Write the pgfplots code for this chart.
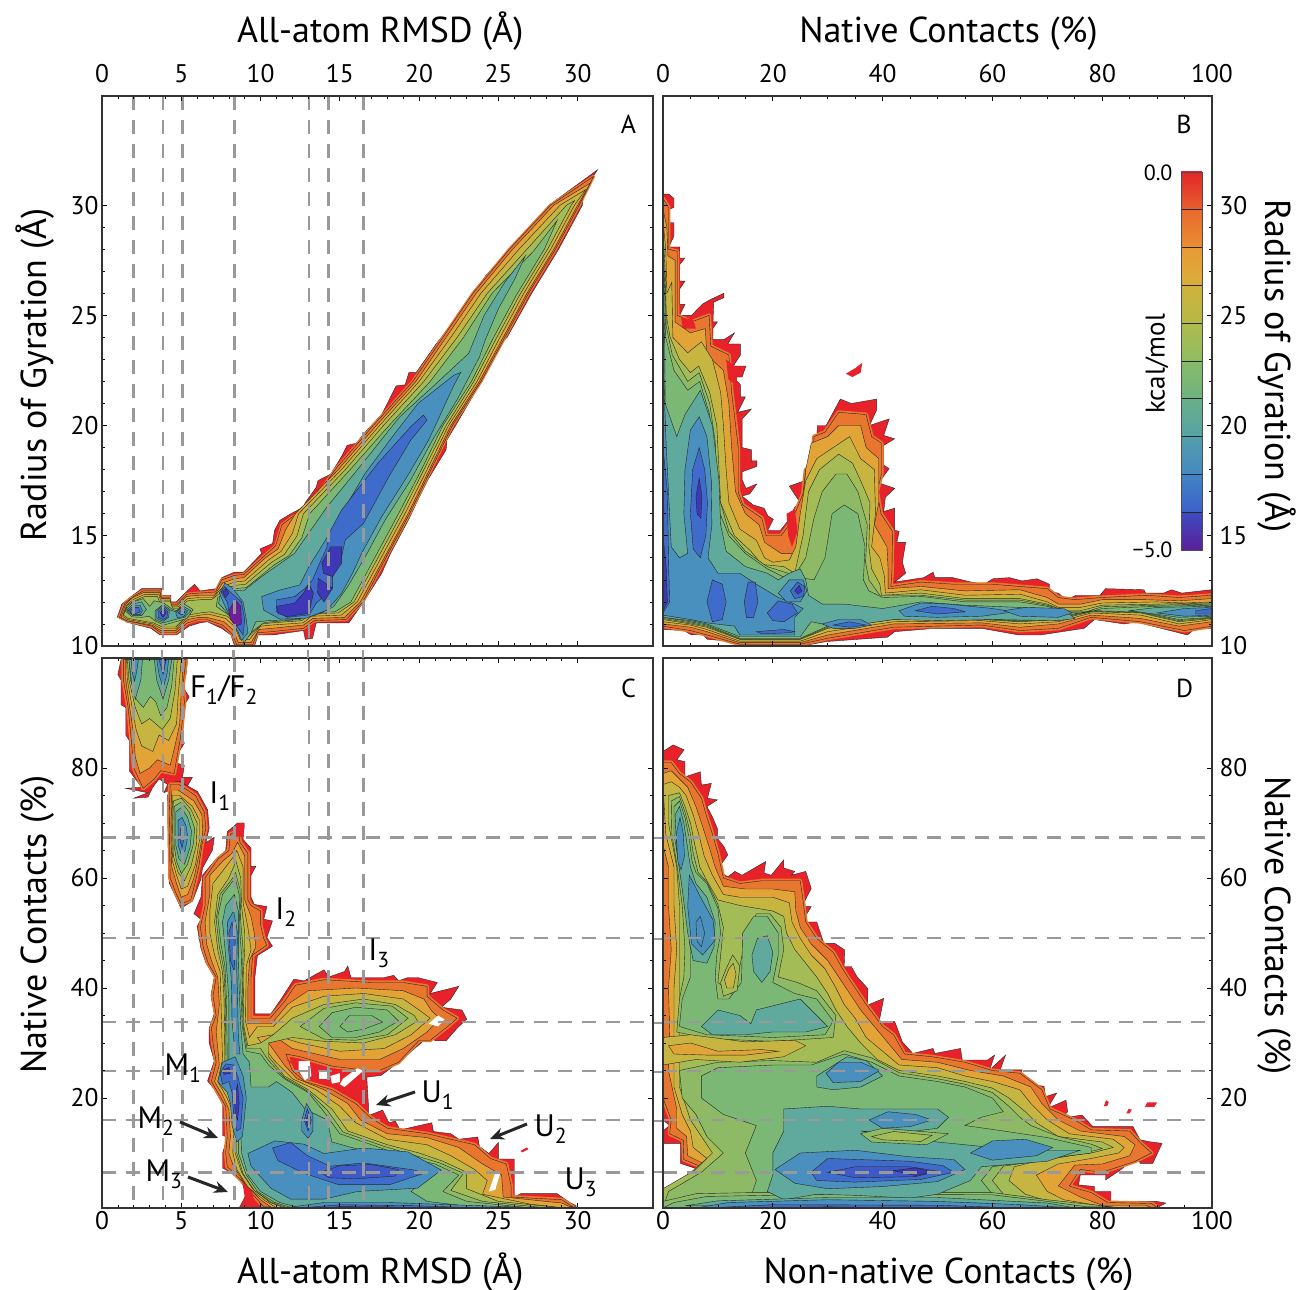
\documentclass[border=0pt]{standalone}
\usepackage{pgfplots}
\pgfplotsset{compat=1.18}
\usepackage{fontspec}
\setmainfont{PT Sans}
\usetikzlibrary{arrows.meta}

\definecolor{c0}{HTML}{E8222A}
\definecolor{c1}{HTML}{E9762F}
\definecolor{c2}{HTML}{E2A436}
\definecolor{c3}{HTML}{C6B541}
\definecolor{c4}{HTML}{A3BC55}
\definecolor{c45}{HTML}{8FBA65}
\definecolor{c5}{HTML}{7CB875}
\definecolor{c6}{HTML}{5FA99D}
\definecolor{c7}{HTML}{4A90BE}
\definecolor{c8}{HTML}{3F6CCB}
\definecolor{c85}{HTML}{3D5AC8}
\definecolor{c9}{HTML}{3E38B8}
\definecolor{cp}{HTML}{701E9C}

% one filled contour level
\newcommand{\lv}[2]{\addplot[fill=#1,draw=black!85,line width=0.4pt] coordinates {#2} --cycle;}
% outer orange level, thickened so that the red only shows at the spikes
\def\edgew{4pt}
\newcommand{\edge}[1]{\addplot[fill=c1,draw=c1,line width=\edgew,line join=round] coordinates {#1} --cycle;
  \lv{c1}{#1}}
\newcommand{\red}[1]{\addplot[fill=c0,draw=none] coordinates {#1} --cycle;}
\newcommand{\hole}[1]{\addplot[fill=white,draw=none] coordinates {#1} --cycle;}

\pgfplotsset{
  panel/.style={
    scale only axis, axis on top,
    tick align=inside, tick pos=both,
    major tick length=5pt, minor tick length=3pt,
    every tick/.style={black,line width=0.7pt},
    axis line style={line width=1.1pt,black!80},
    /pgf/number format/assume math mode=true,
    tick label style={font=\fontsize{25.5}{25.5}\selectfont},
    label style={font=\fontsize{36}{36}\selectfont,text height=0.75em,text depth=0.22em},
  },
  dashln/.style={color=black!40,line width=2.8pt,dash pattern=on 14pt off 10pt},
}

\begin{document}
\begin{tikzpicture}[x=1pt,y=1pt]
\path[use as bounding box] (0,0) rectangle (1310,1290);

% ---------- panel A ----------
\def\edgew{3pt}
\begin{axis}[panel,at={(102pt,644pt)},anchor=south west,width=551pt,height=550pt,
  xmin=0,xmax=34.75,ymin=10,ymax=34.95,
  xtick={0,5,...,30},ytick={10,15,...,30},minor x tick num=4,minor y tick num=4,
  xticklabel pos=top,yticklabel pos=left,xticklabel style={yshift=10pt},
  xlabel={All-atom RMSD (Å)},ylabel={Radius of Gyration (Å)},
  xlabel style={at={(0.505,1)},anchor=south,yshift=48pt},
  ylabel style={at={(0,0.493)},anchor=south,yshift=50pt}]
\lv{c0}{(0.96,11.3)(1.25,11.9)(1.94,12.3)(2.51,12.6)(3.77,12.6)(3.77,12.3)(4.35,12.3)(4.35,12)(4.69,12)(5.38,12.5)(5.84,12.8)(6.18,12.5)(7.21,12.6)(7.55,13.1)(8.36,13.35)(8.93,13.35)(9.27,13.6)(10.07,14.2)(9.96,14.4)(10.76,14.65)(10.88,15.25)(11.22,15.7)(11.91,16)(12.71,16.3)(12.82,16.5)(13.51,17.2)(13.62,17.5)(14.43,17.8)(15.11,18.6)(15.46,19.1)(16.03,19.2)(16.72,19.8)(17.64,20.5)(18.55,21.8)(19.12,21.85)(19.35,22.4)(19.81,22.4)(21.07,23.7)(22.5,25)(24.2,26.8)(26,28.2)(28.2,30)(31.25,31.6)(30.4,30.7)(30.3,30)(28.8,28)(27.1,26)(25.55,24)(25.4,23.9)(24.4,22.75)(23.36,21.3)(22.3,20)(21.76,19.35)(21.7,18.9)(20.6,17.6)(20.04,16.8)(19.35,15.75)(18.2,14.2)(17.64,13.3)(16.5,12)(15.57,11.05)(13.51,11.05)(13.28,10.35)(12.82,10.3)(12.71,10.7)(10.76,10.5)(9.85,10.5)(9.62,10)(8.36,10)(8.13,10.5)(7.55,10.8)(6.64,11.1)(6.18,11.05)(5.49,10.9)(4.69,10.5)(3.66,10.5)(3.09,10.8)(1.48,11.1)(1.48,11.35)}
\edge{(1.1,11.3)(1.45,11.95)(2,12.25)(2.6,12.5)(3.65,12.5)(3.75,12.2)(4.25,12.2)(4.3,11.9)(4.75,11.9)(5.35,12.35)(6.1,12.4)(7.15,12.45)(7.55,13)(8.35,13.2)(8.95,13.25)(10.1,14)(10.95,14.55)(11.35,15.5)(12,15.85)(12.9,16.15)(14.7,18)(17.1,20)(19.6,22)(21.5,24)(23.4,26)(25.7,28)(28.3,30)(31,31.3)(30.1,30)(28.6,28)(26.9,26)(25.4,24)(23.9,22)(22.1,20)(20.75,18)(19.4,16)(17.9,14)(16.45,12)(15.4,11.2)(13.4,11.15)(12.7,10.8)(10.7,10.65)(9.8,10.6)(9.5,10.05)(8.5,10.05)(8.2,10.55)(7.6,10.95)(6.6,11.2)(6.1,11.2)(5.4,11.05)(4.65,10.6)(3.7,10.6)(3.15,10.9)(1.55,11.15)}
\lv{c2}{(1.2,11.3)(1.5,11.9)(1.95,12.2)(2.6,12.42)(3.65,12.42)(3.72,12.15)(4.3,12.15)(4.35,11.85)(4.75,11.85)(5.35,12.25)(6.1,12.3)(7.1,12.3)(7.6,12.85)(8.35,13.05)(8.95,13.1)(10.3,14)(11.1,14.4)(11.6,15.3)(12.2,16)(14.9,18)(17.3,20)(19.8,22)(21.7,24)(23.6,26)(25.9,28)(28.5,30)(30.8,31)(30,30)(28.5,28)(26.8,26)(25.3,24)(23.8,22)(22,20)(20.65,18)(19.3,16)(17.8,14)(16.3,12)(15.3,11.3)(13.3,11.25)(12.7,10.95)(10.7,10.8)(9.9,10.75)(9.4,10.15)(8.6,10.15)(8.3,10.7)(7.7,11.1)(6.6,11.3)(6.1,11.3)(5.4,11.2)(4.65,10.7)(3.7,10.7)(3.15,10.95)(1.55,11.15)}
\lv{c3}{(1.3,11.35)(1.55,11.85)(2,12.12)(2.65,12.33)(3.6,12.33)(3.68,12.08)(4.3,12.08)(4.4,11.78)(4.8,11.78)(5.4,12.15)(6.15,12.2)(7,12.2)(7.65,12.7)(8.35,12.9)(9,12.95)(10.5,13.9)(11.3,14.3)(12,15.1)(12.4,16)(15.1,18)(17.5,20)(20,22)(22,24)(23.9,26)(26.3,28)(28.9,30)(30.5,30.7)(29.8,30)(28.3,28)(26.6,26)(25.1,24)(23.65,22)(21.85,20)(20.5,18)(19.1,16)(17.6,14)(16.1,12)(15.1,11.4)(13.2,11.35)(12.7,11.05)(10.7,10.95)(10,10.9)(9.3,10.3)(8.7,10.3)(8.4,10.85)(7.8,11.25)(6.7,11.45)(6.2,11.4)(5.4,11.3)(4.65,10.78)(3.75,10.78)(3.2,11)(1.6,11.2)}
\lv{c4}{(1.35,11.4)(1.6,11.85)(2.05,12.05)(2.7,12.25)(3.5,12.25)(3.62,12.02)(4.3,12.02)(4.45,11.72)(4.85,11.72)(5.4,12.05)(6.2,12.1)(6.9,12.1)(7.7,12.55)(8.35,12.75)(9.05,12.8)(10.7,13.8)(11.5,14.15)(12.3,15)(12.7,16)(15.35,18)(17.75,20)(20.3,22)(22.4,24)(24.3,26)(26.8,28)(29.3,30)(29.8,30.2)(29.6,30)(28.1,28)(26.4,26)(24.9,24)(23.45,22)(21.7,20)(20.3,18)(18.9,16)(17.4,14)(15.9,12)(14.9,11.5)(13.1,11.45)(12.6,11.15)(10.7,11.05)(10.1,11)(9.2,10.4)(8.7,10.4)(8.5,11)(7.9,11.35)(6.8,11.55)(6.2,11.5)(5.4,11.4)(4.65,10.86)(3.8,10.86)(3.25,11.05)(1.65,11.25)}
\lv{c5}{(1.45,11.6)(1.9,11.98)(2.6,12.15)(3,11.8)(3.3,12.05)(3.9,11.95)(4.4,11.68)(4.7,11.6)(5.2,11.9)(5.75,11.65)(5.35,11.25)(4.65,11.1)(3.9,10.95)(3.3,11.15)(3,11.35)(2.5,11.3)(1.9,11.32)}
\lv{c5}{(7.2,11.8)(7.3,12.2)(7.8,12.45)(8.35,12.6)(9.1,12.65)(10.9,13.7)(11.8,14.1)(12.6,14.9)(13.1,16)(15.65,18)(18.1,20)(20.7,22)(22.8,24)(24.6,26)(27.2,27.9)(28.7,29.3)(27.9,28)(26.2,26)(24.7,24)(23.3,22)(21.5,20)(20.15,18)(18.7,16)(17.2,14)(15.7,12)(14.7,11.55)(13,11.5)(12.5,11.2)(10.7,11.1)(10.2,11.05)(9.2,10.5)(8.75,10.5)(8.5,11.1)(7.9,11.45)}
\lv{c6}{(1.55,11.6)(1.95,11.9)(2.5,12)(2.8,11.65)(2.5,11.38)(1.95,11.38)}
\lv{c6}{(3.35,11.6)(3.85,11.88)(4.35,11.62)(4.65,11.55)(5.1,11.82)(5.6,11.6)(5.2,11.3)(4.6,11.2)(3.85,11.05)(3.35,11.2)}
\lv{c6}{(7.35,11.94)(7.5,12.4)(8.13,12.55)(8.93,12.5)(10.07,13.15)(12.14,14.2)(14.2,16.32)(16.26,18.13)(18.78,20.4)(21.07,21.9)(23.13,23.28)(24.1,25)(25.4,26.5)(26.7,27.7)(26,26.6)(25,25.3)(24.17,23.88)(23.8,23.1)(22.45,21.24)(20.84,19.34)(19.47,17.53)(17.86,15.72)(16.72,14.2)(15.5,12.69)(14.6,11.78)(13.51,11.4)(12.14,11.2)(10.53,11.15)(9.7,11.1)(9.39,10.57)(8.93,10.12)(8.8,10.6)(8.36,11.2)(7.9,11.5)}
\lv{c7}{(1.65,11.6)(2,11.85)(2.4,11.85)(2.55,11.6)(2.4,11.42)(2,11.42)}
\lv{c7}{(3.45,11.6)(3.85,11.82)(4.25,11.6)(4.2,11.3)(3.85,11.12)(3.45,11.25)}
\lv{c7}{(4.65,11.5)(5.05,11.75)(5.4,11.6)(5.15,11.33)(4.75,11.28)}
\lv{c7}{(7.4,12.4)(7.75,12.85)(8.2,12.65)(8.9,12)(9.1,11.2)(9.2,10.6)(8.8,10.25)(8.6,10.6)(8.1,11.3)(7.7,11.9)}
\lv{c7}{(10.07,12.24)(11.22,12.54)(12.48,12.77)(13.05,13.6)(13.97,14.66)(15.11,16.02)(16.6,17.83)(18.32,19.5)(19.93,21)(22.2,22.29)(22.63,22.41)(22.2,21.84)(20.6,19.34)(19.24,17.68)(17.64,15.87)(16.37,14.2)(15.8,13.3)(15.11,12.39)(14.2,11.63)(12.82,11.25)(11.22,11.22)(10.19,11.63)}
\lv{c8}{(20.27,20.48)(19.47,19.95)(17.4,18.29)(15.11,16.17)(14.2,14.96)(14.2,14.5)(13.63,13.6)(13.28,13)(12.82,12.62)(12.14,12.24)(10.99,12.09)(10.99,11.56)(11.68,11.3)(13.05,11.41)(13.51,11.94)(14.54,12.62)(14.54,13.3)(15.11,14.05)(15.34,14.81)(16.49,15.56)(18.09,17.68)(19.47,19.34)(20.5,20.25)}
\lv{c8}{(1.75,11.6)(2,11.75)(2.3,11.75)(2.42,11.55)(2.05,11.45)(1.8,11.48)}
\lv{c8}{(3.55,11.55)(3.85,11.75)(4.15,11.55)(4.1,11.3)(3.85,11.2)(3.55,11.3)}
\lv{c8}{(4.8,11.5)(5.05,11.65)(5.25,11.55)(5.05,11.4)}
\lv{c8}{(7.5,12.45)(7.75,12.7)(8,12.5)(8.8,12)(9,11.2)(8.9,10.5)(8.6,10.8)(8.05,11.4)(7.9,12)}
\lv{c9}{(14.43,14.5)(15.11,14.5)(15.11,13.75)(14.54,13.15)(13.97,13.3)(13.86,13.75)}
\lv{c9}{(10.99,11.8)(12.14,11.94)(12.71,12.39)(13.05,12.84)(13.33,12.39)(13.05,11.48)(11.68,11.33)(11.1,11.48)}
\lv{c9}{(13.63,13.07)(14.54,12.62)(14,12)(13.6,12.4)}
\lv{c9}{(3.65,11.5)(3.9,11.65)(4.05,11.5)(3.85,11.3)}
\lv{c9}{(7.6,12.45)(7.8,12.6)(8,12.4)(7.8,12.2)}
\lv{cp}{(8,11.6)(8.4,12.1)(8.75,11.8)(8.8,11)(8.45,10.9)(8.1,11.2)}
\foreach \v in {2,3.85,5.1,8.35,13.05,14.3,16.5}{
  \edef\tmp{\noexpand\addplot[dashln] coordinates {(\v,34.95)(\v,10)};}\tmp}
\node[font=\fontsize{26}{26}\selectfont] at (axis cs:33.2,33.65) {A};
\end{axis}

% ---------- panel B ----------
\def\edgew{4pt}
\begin{axis}[panel,at={(663pt,644pt)},anchor=south west,width=549pt,height=550pt,
  xmin=0,xmax=100,ymin=10,ymax=34.95,
  xtick={0,20,...,100},ytick={10,15,...,30},minor x tick num=3,minor y tick num=4,
  xticklabel pos=top,yticklabel pos=right,xticklabel style={yshift=10pt},yticklabel style={xshift=4pt},
  xlabel={Native Contacts (\%)},ylabel={Radius of Gyration (Å)},
  xlabel style={at={(0.52,1)},anchor=south,yshift=48pt},
  ylabel style={at={(1,0.509)},anchor=south,rotate=180,yshift=48pt}]
\lv{c0}{(0,30.5)(1.06,30.5)(2,30.3)(2,29.9)(1.06,29.8)(1.06,29.2)(2,29.2)(2,28.6)(1.06,28.1)(3.05,28.1)(3.05,27.6)(4,27.6)(3.05,27.3)(3.05,26.55)(4,26.55)(3.05,26.2)(3.05,25.5)(4,25.5)(3.05,25)(5.2,25)(7.15,25.5)(8.5,25.7)(11.1,26)(11.1,25.8)(9.25,25.6)(9.1,24.7)(9.9,24.7)(9.1,24.4)(9.1,23.9)(11.1,23.9)(13,24.2)(11.8,23.7)(14.1,23.7)(14.1,23.2)(12.8,22.7)(15.1,22.7)(14.4,22.2)(12.8,22.2)(14.1,21.85)(14.1,21.3)(15,21.3)(13.6,20.6)(16.1,20.75)(14.4,20.3)(14.4,19)(16.1,18.9)(16.1,18.4)(17.1,18.4)(17.1,18.15)(14.4,17.9)(14.4,17.55)(15.1,17.15)(17.1,17.35)(15.8,16.9)(14.4,16.8)(16.4,16.4)(18.4,16.25)(19.1,15.9)(20.1,15.75)(19.1,15.25)(21.4,15.25)(23,15.75)(24,16.3)(25,16.5)(23,17.25)(26.4,17.55)(27,18.4)(28,18.6)(28.1,20)(29.7,20)(32.3,21.2)(34.3,21)(38.9,21.2)(38.9,20.7)(37.6,20)(41.2,20.3)(40.2,19.55)(42.2,19.4)(40.2,19.1)(40.2,18.2)(41.2,18.05)(39.3,17.4)(42.2,17.15)(40.5,16.75)(40.2,16.1)(42.2,16.25)(42.2,15.25)(43,15.2)(42.6,14.7)(44.2,14.7)(43.6,13.8)(44.2,13.3)(42.2,12.9)(47.5,13.1)(49.2,13.35)(49.5,13.1)(52.8,13.1)(56.1,12.9)(58.5,12.8)(60.1,13.05)(63.1,13.1)(65.4,12.95)(68.1,13.05)(70.4,12.8)(70.4,12.45)(72,12.4)(73.4,12.1)(75.3,12.3)(79.6,12.3)(80.6,12.6)(87.6,12.55)(87.9,12.4)(91.2,12.4)(92.6,12.55)(94.5,12.4)(99.8,12.55)(100,10.8)(97,10.8)(95.5,10.5)(87.6,11)(86.6,11.1)(84,11)(78.6,11.2)(76.7,10.8)(68.7,10.5)(64.8,10.5)(58.1,10.8)(49.5,10.8)(42.2,10.65)(40.9,10.4)(29.7,10.2)(25.3,10)(14.1,10)(13.4,10.2)(8.1,10.3)(7.15,10.55)(5.2,10.5)(3.8,10.7)(0,10.75)}
\red{(33.3,22.35)(35,22.6)(36.3,22.85)(36,22.4)(34.5,22.2)}
\edge{(0,30.3)(1,29.9)(1,28)(2.6,27.9)(2.6,25)(5.2,24.7)(8.4,25)(8.7,23.6)(12,23.2)(12.5,21.5)(13,20.5)(13.7,19)(13.7,17)(14.5,16.4)(18,15.8)(18.8,15)(21.5,15)(23,15.5)(24,16)(25.5,16.9)(26,18)(27.2,18.2)(27.5,19.5)(29.5,19.7)(32,20.6)(37,20.5)(38,19.5)(39.8,19.2)(39.8,17.8)(39,17)(39.7,16)(41.8,15.2)(41.7,13.4)(41.5,12.7)(47,12.9)(53,12.8)(60,12.8)(70,12.6)(72,12.2)(75,12.1)(80,12.2)(88,12.3)(94,12.2)(100,12.3)(100,10.9)(95,10.7)(87,11.1)(78,11.3)(72,10.8)(65,10.7)(58,10.95)(42,10.85)(30,10.35)(25,10.08)(14,10.08)(8,10.5)(5,10.7)(0,10.9)}
\red{(22.5,16)(24,16.2)(24.5,15.2)(23.5,14.5)(22.8,15)}
\red{(3.3,24.9)(5.5,24.8)(6,24.4)(3.6,24.4)}
\red{(11.5,23)(13.5,22.6)(13.4,21.8)(11.9,22.1)}
\lv{c2}{(0,29.8)(0.7,29)(0.9,27.7)(2.2,27.5)(2.2,24.7)(5,24.2)(7.7,24.4)(8,23.2)(11,22.5)(12,21)(12.5,19)(13.2,17)(15,16)(17.5,15.5)(18.5,14.7)(21.5,14.2)(24,14.2)(25,15)(25.5,16.5)(26,18)(27,19.2)(30,19.5)(32,20)(36,20)(37,19)(39.3,18.5)(39.3,16.5)(38.5,15.5)(40.8,14.5)(41,13.5)(41,12.6)(47,12.7)(55,12.5)(65,12.55)(70,12.2)(72,11.9)(76,11.9)(80,12.1)(88,12.1)(94,12.05)(100,12.15)(100,11.1)(94,10.9)(87,11.25)(78,11.4)(72,11)(65,10.85)(58,11.05)(42,11)(30,10.5)(25,10.15)(14,10.15)(8,10.65)(5,10.85)(0,11)}
\lv{c3}{(0,29.3)(0.5,28)(0.7,26)(1.6,26.5)(1.8,24)(4.5,23.3)(7,23.8)(9,23)(10.5,21.5)(11,20)(11.5,18)(12,16.5)(14,15.3)(17,14.8)(18.5,14)(20,13.8)(23,13.9)(24.2,14.5)(25,16)(26,17.5)(28,18.5)(31,19)(34,19.5)(36,18.5)(38.5,18)(38.7,16)(38,14.5)(39.5,14)(40.3,13.2)(40.5,12.4)(47,12.55)(55,12.3)(65,12.35)(70,12)(72,11.75)(76,11.75)(80,11.95)(90,12)(95,11.95)(100,12)(100,11.2)(94,11)(87,11.4)(78,11.5)(72,11.1)(65,11)(58,11.15)(42,11.1)(30,10.65)(25,10.22)(14,10.22)(8,10.75)(5,10.95)(0,11.1)}
\lv{c4}{(0,28.8)(0.4,27)(0.6,25)(1.3,24)(3,23)(5,22.4)(6.5,22.7)(8.5,21.5)(9.8,20)(10.2,18)(10.5,16.5)(13,15)(16,14.3)(18,13.7)(22,13.6)(24,13.3)(25.5,15)(26.5,17)(28.5,18)(32,18.7)(34.5,18.3)(36,17.5)(37.7,16.5)(37.5,14.5)(38,13.5)(39.5,12.8)(39.8,12.3)(47,12.4)(55,12.15)(65,12.15)(70,11.9)(73,11.6)(76,11.6)(80,11.85)(90,11.9)(100,11.95)(100,11.25)(94,11.1)(87,11.5)(78,11.55)(72,11.2)(65,11.1)(58,11.2)(42,11.2)(30,10.8)(25,10.3)(14,10.3)(8,10.85)(5,11)(0,11.2)}
\lv{c45}{(0,28.4)(0.4,26)(0.6,24.5)(1.7,23.2)(4.5,22)(6.6,22.4)(8.5,21)(9.5,19.3)(9.9,17)(12,15.2)(15,14.3)(19,13.6)(24,13.2)(26,14)(27.5,15.8)(29,17)(31.5,17.8)(33.5,17.8)(35.5,17)(37.2,15.5)(36.9,13.8)(37.5,13)(39.5,12.3)(47,12.3)(55,12.08)(65,12.08)(70,11.85)(74,11.55)(77,11.55)(80,11.78)(90,11.85)(100,11.9)(100,11.28)(94,11.15)(87,11.52)(78,11.58)(72,11.25)(65,11.12)(58,11.22)(42,11.22)(30,10.85)(25,10.32)(14,10.32)(8,10.9)(5,11.05)(0,11.25)}
\lv{c5}{(0,28)(0.3,26)(0.5,24)(2,22.5)(4.5,21.6)(6.7,22)(8.5,20.5)(9.2,18.5)(9.6,16.5)(12,15)(15,14.2)(19,13.5)(23,13)(25,13.1)(27.5,13)(29.5,14)(30.8,16)(33,16.4)(35.5,16)(36.8,14.5)(36.5,13)(37.5,12.5)(40,12.2)(47,12.25)(55,12)(65,12)(70,11.8)(74,11.5)(77,11.5)(80,11.7)(90,11.8)(100,11.85)(100,11.3)(94,11.2)(87,11.55)(78,11.6)(72,11.3)(65,11.15)(58,11.25)(42,11.25)(30,10.9)(25,10.35)(14,10.35)(8,10.95)(5,11.1)(0,11.3)}
\lv{c6}{(0,27)(0.3,24)(0.4,21)(2.5,19.5)(4,20.5)(6.8,21.6)(9,20)(10.2,17.5)(10.5,15.5)(11.5,14.3)(15,13.6)(19,13.3)(21,13)(23,13.3)(25,13.5)(26,13)(26.5,12.3)(29,11.9)(33,11.9)(40,11.7)(47,12)(55,11.85)(60,11.8)(70,11.7)(74,11.45)(75,11.25)(72,11.15)(60,11.2)(50,11.15)(42,11.2)(35,10.95)(30,10.95)(27,11.1)(25,10.42)(14,10.42)(8,11)(5,11.15)(0,11.3)}
\lv{c6}{(85,11.6)(90,11.75)(100,11.8)(100,11.35)(94,11.3)(88,11.5)}
\lv{c7}{(0,24)(0.3,21)(0.6,19)(1,17)(1.5,14.5)(3,14)(4.5,14.2)(3.8,16)(4,18)(5,19.8)(6.6,20.4)(8,19.5)(8.8,17.5)(8.9,15.5)(8.2,14)(10,13.3)(14,13.3)(17,12.8)(21,12.2)(24,11.9)(25.5,11.7)(24,11.3)(24,10.5)(14,10.5)(13,10.9)(8,11.05)(5,11.2)(0,11.4)}
\lv{c7}{(21,12.4)(23,13)(25.5,13)(26.2,12.5)(25,12)(22.5,12)}
\lv{c7}{(43,11.6)(47,11.95)(52,11.9)(60,11.7)(64,11.55)(58,11.35)(50,11.3)(44,11.35)}
\lv{c7}{(62,11.6)(66,11.75)(73,11.7)(74.5,11.5)(72,11.3)(65,11.35)}
\lv{c7}{(90,11.5)(95,11.7)(100,11.75)(100,11.4)(95,11.35)}
\lv{c7}{(29,11)(32,11.2)(36,11.2)(38,10.95)(35,10.8)(31,10.8)}
\lv{c8}{(6.6,19)(7.6,18)(8.1,16.5)(7.8,15)(6.8,14)(5.5,14.4)(5,16)(5.4,18)}
\lv{c8}{(0,19)(0.8,17)(1,14)(1.2,12)(0,11.5)}
\lv{c8}{(8,12)(9,13)(10.8,12.8)(11.5,12)(10.8,11.2)(9,11.1)}
\lv{c8}{(14.8,12)(15.5,12.9)(16.8,12.9)(17.3,12)(16.5,11.3)(15.2,11.3)}
\lv{c8}{(19,11.5)(21,12.05)(23.5,11.9)(24.5,11.5)(22,11.1)(20,11.15)}
\lv{c8}{(23.2,12.5)(24.5,12.9)(25.8,12.7)(25.6,12.25)(24,12.15)}
\lv{c8}{(46,11.6)(49,11.8)(53,11.7)(55,11.55)(50,11.45)}
\lv{c8}{(97,11.6)(100,11.7)(100,11.45)(97,11.45)}
\lv{c8}{(31,10.95)(34,11.1)(37,10.95)(34,10.85)}
\lv{c8}{(17,10.65)(22,10.75)(24,10.65)(23,10.6)(18,10.55)}
\lv{c9}{(0,15)(0.6,13.5)(0.8,12)(0,11.6)}
\lv{c9}{(6.6,17.6)(7.1,16.8)(6.9,15.8)(6.2,16)(6,16.8)}
\lv{c9}{(24,12.5)(24.8,12.75)(25.3,12.5)(24.6,12.35)}
\node[font=\fontsize{26}{26}\selectfont] at (axis cs:94.9,33.65) {B};
\end{axis}

% ---------- panel C ----------
\begin{axis}[panel,at={(102pt,82pt)},anchor=south west,width=551pt,height=550pt,
  xmin=0,xmax=34.75,ymin=0,ymax=100,
  xtick={0,5,...,30},ytick={20,40,...,80},minor x tick num=4,minor y tick num=3,
  xticklabel pos=bottom,yticklabel pos=left,
  xlabel={All-atom RMSD (Å)},ylabel={Native Contacts (\%)},
  xlabel style={at={(0.505,0)},anchor=north,yshift=-64pt},
  ylabel style={at={(0,0.515)},anchor=south,yshift=50pt}]
% native basin F1/F2
\lv{c0}{(1.2,99.7)(5.4,99.7)(5.3,97)(5.1,94.8)(5.5,92.9)(5.2,91.5)(5.08,85.6)(5.19,84.5)(4.87,83)(4.56,81)(5.19,80.5)(5.08,78.3)(5.7,78.3)(5.3,76.3)(4.9,76)(4.3,76)(3.9,75.5)(4.14,77)(3.6,78)(3.2,76.5)(2.9,74.7)(2,74.5)(2.9,75.5)(1.5,76.3)(2.5,76.5)(1.72,79.5)(1.72,85)(1.5,86)(1.5,91)(1.2,91.5)(1.2,96)(1,97)}
\edge{(1.35,99.7)(5.3,99.7)(5.1,95)(5.2,92)(4.95,85.5)(4.7,81.5)(4.55,79)(3.7,79.5)(3.3,78)(2.6,76.3)(2,80)(1.85,85)(1.65,91)(1.35,96)}
\lv{c2}{(1.5,99.7)(5.15,99.7)(5,94)(4.9,88)(4.6,84)(4.3,80.5)(3.5,81.5)(3,80)(2.4,79)(2.1,82)(2,86)(1.75,91)(1.5,96)}
\lv{c3}{(1.55,99.7)(5,99.7)(4.8,93)(4.7,88)(4.2,85)(3.6,86)(3.2,83)(2.5,84)(2.15,87)(1.9,91)(1.6,96)}
\lv{c4}{(1.6,99.7)(4.75,99.7)(4.6,94)(4.3,89)(3.8,87)(3.4,88)(3,89)(2.5,88)(2.1,91)(1.7,96)}
\lv{c5}{(1.7,99.7)(4.55,99.7)(4.4,95)(4.1,91)(3.7,89.5)(3.4,92)(3.05,93)(2.6,91)(2.15,92.5)(1.8,96)}
\lv{c6}{(1.7,99.7)(2.55,99.7)(2.45,96)(2.1,92.5)(1.85,96)}
\lv{c6}{(3.3,99.7)(4.4,99.7)(4.2,96)(3.85,92.5)(3.45,96)}
\lv{c7}{(1.85,99.7)(2.3,99.7)(2.15,97)(2.05,95.8)(1.9,97.5)}
\lv{c7}{(3.45,99.7)(4.2,99.7)(4.1,97)(3.85,94.5)(3.6,97)}
\lv{c8}{(3.6,99.7)(4.05,99.7)(3.85,97)}
% I1
\lv{c0}{(4.35,77.3)(4.87,77.65)(6.03,75.7)(6.66,72.4)(6.76,69.1)(6.55,66.4)(7.08,67.4)(6.97,65.1)(6.34,61.8)(6.24,59.8)(5.71,55.8)(4.98,54.5)(4.66,56.5)(4.24,59.1)(4.18,64.4)(4.14,75)}
\edge{(4.3,77)(4.85,77)(5.9,75)(6.45,72)(6.55,69)(6.3,66)(6.1,62)(5.9,59.5)(5.6,56)(5,55.3)(4.7,57)(4.3,60)(4.28,64)(4.24,72)}
\lv{c2}{(4.4,76)(4.8,76)(5.8,74)(6.3,71.5)(6.35,68)(6.1,64)(5.8,60)(5.4,57)(5,56.5)(4.7,59)(4.4,62)(4.35,68)}
\lv{c3}{(4.45,75)(4.9,75)(5.7,73)(6.15,70.5)(6.15,67)(5.9,62.5)(5.4,58.5)(5,58)(4.7,60.5)(4.45,63)(4.4,68)}
\lv{c4}{(4.5,74)(5,74.5)(5.6,72.5)(6,70)(5.95,66)(5.6,62)(5.2,59.5)(4.8,61)(4.5,64)(4.45,69)}
\lv{c5}{(4.55,73)(5,73.8)(5.5,72)(5.85,69)(5.75,66)(5.4,62.5)(5,60.8)(4.7,63)(4.55,66)}
\lv{c6}{(4.65,72)(5,72.8)(5.4,71)(5.65,68.5)(5.55,65.5)(5.2,62.5)(4.85,63.5)(4.65,66)}
\lv{c7}{(4.8,70.5)(5.05,71)(5.3,69.5)(5.4,67.5)(5.25,65)(5,64.2)(4.8,66)}
\lv{c8}{(4.95,69)(5.1,69.5)(5.15,67)(5.05,65.5)(4.9,67)}
% main column, I3 wing and the unfolded wedge
\lv{c0}{(8.55,70)(8.97,70)(8.9,67)(9.4,65.4)(9.4,62.1)(9.7,62.1)(9.4,60.5)(9.4,56.5)(9.6,55.2)(10.4,54.8)(10.2,52.5)(10.75,52.2)(10.4,49.2)(10.75,47.6)(9.8,45.9)(9.64,41.9)(9.64,35.3)(10.65,35.3)(11.3,38)(12.1,41.6)(12.75,41.3)(14,43.3)(14.3,42)(15.3,43)(15.5,44)(15.7,41.9)(16.7,41.9)(17.8,41.9)(18.4,42.3)(18.7,41.3)(19.3,41.9)(19.9,41.9)(21.15,41)(20.7,39)(22.5,40.3)(22,38)(21.4,36.5)(22.7,36)(23,34.35)(22.4,32.7)(21.7,30.4)(21,30.4)(20.8,31.7)(18.8,26.7)(17.6,24.1)(16.7,23.8)(16.8,18.8)(16.8,16.8)(17.7,17.8)(18.1,15.5)(18.5,15.8)(18.8,14.2)(20.8,15.5)(20.9,13.9)(22,13.5)(22.5,12.5)(23.7,12.9)(23.8,11.2)(24.4,9.9)(25,11.9)(25,8.9)(26,8.9)(26,2)(26.4,2.6)(27.5,2.6)(28.7,2.6)(29.5,1)(29.9,0.4)(29.9,0)(10,0)(8.65,0)(9.2,3)(8.55,5.9)(7.6,7.25)(7.6,9.9)(7.9,12.9)(7.6,13.2)(7.6,18.8)(7.3,20.8)(6.66,23.1)(7.08,26.75)(6.76,30)(6.76,32.7)(7.08,35.3)(6.87,38.6)(7.08,42)(6.55,44.6)(6.24,47.2)(6,51.2)(6.24,52.5)(5.8,53.5)(6.24,56.5)(6.34,60.5)(7.18,63.4)(7.8,65)(7.9,68.4)}
\edge{(8.6,68.5)(8.7,66.5)(9.2,64.5)(9.2,56)(9.4,55)(10,54)(10,51.5)(10.2,49)(10.4,47.8)(9.5,46)(9.4,42)(9.4,34.5)(10.6,34.5)(11.5,37.5)(12.2,40.5)(14,41.5)(17,41)(19,41)(20.5,40.3)(20.5,38.5)(21.5,36)(22.4,34.5)(21.8,33)(20.7,30.5)(20,30.5)(18.7,26.5)(17.5,25)(16.7,25)(14.5,25.8)(12.5,27.5)(11.6,28)(12,25)(12.8,23)(14.5,21.5)(16,19)(16.9,16.5)(18,14.5)(20.5,13.5)(22,12.5)(23.5,11.5)(24.5,9)(25.5,8)(25.8,4)(25.8,2)(29,1.5)(29.7,0.2)(10.2,0.2)(9.5,2.5)(8.8,5)(7.9,7.5)(7.8,10)(7.9,13)(7.8,18.5)(7.4,20.5)(6.9,23)(7.2,26.5)(7,30)(6.9,32.7)(7.2,35)(7,38.5)(7.2,42)(6.7,44.5)(6.4,47.2)(6.2,51)(6.5,55)(6.5,60)(7.3,63.4)(8,65)(8.1,68)}
\red{(8.4,69)(9,69.6)(8.9,67.5)(8.4,67.5)}
\red{(11.6,27)(13,25.5)(15,25)(16.6,24.5)(16.7,22)(15,23)(13,24)}
\red{(9,2)(9.6,1)(9.4,4)(8.8,5.6)}
\lv{c2}{(8.55,66.5)(9,64)(9,56)(9.4,53)(9.6,50)(9.7,47.5)(9.3,45)(9.2,40)(9.2,33.5)(10.7,33.5)(11.7,37)(13,39.5)(16,40)(19,39.5)(20.3,38)(20.8,35.8)(21.3,34.5)(20.5,32)(19,29)(17.5,27)(15,27)(12,29)(11,31)(10.5,30)(11.5,26)(12.3,23.5)(14,21.5)(15.5,19)(16.3,16)(18,13.5)(20.5,12.8)(22.5,11)(24,8)(25.2,6)(25.3,2)(29,0.9)(29.6,0.1)(10.7,0.1)(10,1.5)(9,4.5)(8.3,7.5)(8,10)(8.1,13)(8,18)(7.6,20.5)(7.1,23)(7.4,26)(7.2,32)(7.4,37)(7.3,42)(6.9,45)(6.6,48)(6.5,52)(6.8,57)(6.8,60.5)(7.6,63)(8.2,64.5)}
\lv{c3}{(8.5,65)(8.9,62)(8.9,55.5)(9.2,51)(9.4,47)(9.1,44)(9.05,34)(9.3,31)(9.8,33)(10.8,33)(12,36.5)(14,38.5)(16.5,39)(19,38)(20,36)(20.7,34.5)(19.5,31.5)(17.8,29)(15,28.5)(12.5,30)(10.8,31.5)(9.8,31)(10.8,27)(12,23.5)(13.5,21.5)(15,18.5)(16,15.5)(18,12.5)(20.5,11.5)(22,9.5)(23.5,7)(24.3,5)(24,2.5)(27,0.7)(29,0.05)(11,0.05)(10.3,1.3)(9.2,3.8)(8.5,7)(8.25,10)(8.3,14)(8.2,18)(7.8,20.5)(7.3,23)(7.6,27)(7.5,38)(7.45,43)(7.1,46)(6.8,50)(6.8,54)(7,59)(7.8,62)(8.2,63.5)}
\lv{c4}{(8.45,63)(8.75,60)(8.8,55)(9,50)(9,47)(8.9,42)(8.95,33)(9.2,29.5)(10,30)(10.8,31.5)(12,34.5)(14,37)(16.5,38)(18.5,37)(19.7,35)(19.9,34)(18.5,31.5)(16.5,30)(14,30.3)(12,31)(10.5,30)(10.5,27.5)(11.5,24)(13,21.5)(14.5,18)(15.5,14)(18,11.5)(20,10)(21.5,8.5)(23,6.5)(23,3.5)(25,1.2)(29,0.03)(11.5,0.03)(10.6,1)(9.5,3.5)(8.8,6.5)(8.4,10)(8.45,14)(8.35,18)(8,20.5)(7.6,23)(7.75,27)(7.7,38)(7.6,43)(7.3,47)(7.1,52)(7.3,57)(8,60)}
\lv{c45}{(12.5,33)(14,36.3)(16,37.3)(18.3,36.7)(19.3,34.5)(18,31.5)(16,30.5)(14,30.7)}
\lv{c45}{(8.42,61)(8.7,58)(8.75,52)(8.9,47)(8.85,40)(8.9,33)(9.15,29)(10,29)(10.5,26.8)(11.5,23.7)(13,21.2)(14.2,17.8)(15.2,13.8)(17.8,11.2)(19.8,9.5)(21.3,8.2)(22.8,6.3)(22,3.2)(24,1.2)(28,0.02)(11.7,0.02)(10.7,1)(9.6,3.2)(8.9,6.2)(8.5,10)(8.5,14)(8.42,18)(8.05,20.5)(7.7,23)(7.82,27)(7.78,38)(7.68,43.5)(7.4,47.5)(7.2,52.5)(7.45,57)(8.2,59.8)}
\lv{c5}{(13.7,33)(14.5,35.5)(16,36.5)(18,36)(18.7,34)(17.5,32)(16,31)(14.5,31)}
\lv{c5}{(15,33)(15.6,35)(17,35)(17.7,33.8)(16.5,32.5)(15.5,32)}
\lv{c5}{(8.4,60)(8.65,57)(8.7,50)(8.8,46)(8.75,40)(8.85,33)(9.1,28.5)(10,28)(10.5,26)(11.5,23.5)(13,21)(14,17.5)(15,13.5)(17.5,11)(19.5,9)(21,8)(22.5,6)(21.5,3)(23,1.2)(27,0.02)(12,0.02)(10.9,1)(9.8,3)(9.1,6)(8.6,10)(8.6,14)(8.5,18)(8.1,20.5)(7.8,23)(7.9,27)(7.85,38)(7.75,44)(7.5,48)(7.3,53)(7.6,57)}
\lv{c6}{(8.35,57)(8.6,54)(8.6,46)(8.65,40)(8.75,33)(8.9,28)(9.3,26.5)(9.4,22)(10.5,22)(11,23)(12,21)(12.8,18)(14.2,16)(14.5,12)(17,10)(19,8)(20.5,6)(19.5,3)(20.5,1.2)(24,0.01)(12.5,0.01)(11.2,1)(10,3)(9.2,6)(8.8,10)(8.75,14)(8.7,18)(8.3,20.5)(8,23)(8,27)(8,38)(7.85,44)(7.7,49)(7.6,52)(7.8,55)}
\lv{c7}{(8.3,54)(8.55,50)(8.5,44)(8.55,38)(8.6,31)(8.7,28)(8.4,28)(8.2,34)(8.15,42)(7.95,48)(7.9,52)}
\lv{c7}{(7.3,23)(7.6,26.5)(8.4,27.5)(8.9,24)(9.1,20)(9,17)(8.85,13)(8.5,12)(8.2,15)(8.1,19)(7.9,21)}
\lv{c7}{(9.2,9.9)(10.9,12.2)(12.75,11.6)(14,9.9)(16.5,10.9)(19.3,10.2)(21.4,6.9)(19.9,3.6)(16.1,3)(14,1.6)(11.9,1.6)(10.65,3.6)(9.4,7.6)}
\lv{c7}{(12.6,16)(12.9,19)(13.3,17)(13.3,14)(13,12.7)(12.6,14)}
\lv{c7}{(11.5,0)(14,1)(18,1)(25,0.3)(28,0)}
\lv{c8}{(8.2,52)(8.4,49)(8.35,43)(8.1,45)(8,50)}
\lv{c8}{(7.45,24.5)(7.8,26.2)(8.3,26)(8.6,23.5)(8.9,20)(8.75,14.5)(8.5,14)(8.3,17)(8.2,21)(8,23)(7.6,22.5)}
\lv{c8}{(10.75,10.9)(11.9,11.9)(12.96,9.5)(14.4,7.6)(16.5,8.2)(19.7,6.9)(20.3,6.3)(18.2,4.3)(14.85,4.3)(12.75,6.3)(11.1,8.6)}
\lv{c8}{(12.75,16)(12.95,18)(13.2,16)(13,14)}
\lv{c8}{(12.5,0)(15,0.6)(20,0.4)(24,0)}
\lv{c85}{(13.8,6.5)(15,7.7)(17,7.9)(18.7,7)(18.5,5.8)(16,5.3)(14.3,5.5)}
\lv{c9}{(7.6,25)(8,25.6)(8.1,24.5)(7.7,24.3)}
\lv{c9}{(8.35,20)(8.55,22.5)(8.65,19)(8.55,16)(8.4,17)}
\lv{c9}{(12.85,16)(13,17)(13.1,15.5)(12.95,15)}
\lv{cp}{(14,0)(15,0.25)(18,0.2)(20,0)}
\hole{(12.4,26.7)(13.1,26.7)(13.2,24)(12.8,23.2)(12.4,25)}
\hole{(13.7,24.8)(14.2,24.8)(14.2,23.5)(13.7,23.5)}
\hole{(14.4,24)(15,24.5)(15,22.9)(14.5,22.6)}
\hole{(15.2,23.5)(16.1,25.4)(16.5,25)(15.3,22)(15,22.5)}
\hole{(20.6,33.5)(21.2,35)(21.6,34.3)(21.2,33)}
\hole{(24.4,3)(24.8,3.3)(25.1,6.2)(24.8,6.4)}
\red{(26.4,10.4)(26.8,11)(26.9,10.7)(26.5,10.1)}
\foreach \v in {2,3.85,5.1,8.35,13.05,14.3,16.5}{
  \edef\tmp{\noexpand\addplot[dashln] coordinates {(\v,100)(\v,0)};}\tmp}
\foreach \v in {67.3,49.1,33.8,24.9,16,6.5}{
  \edef\tmp{\noexpand\addplot[dashln] coordinates {(0,\v)(34.75,\v)};}\tmp}
\node[font=\fontsize{26}{26}\selectfont] at (axis cs:33.2,94.4) {C};
\end{axis}

% ---------- panel D ----------
\begin{axis}[panel,at={(663pt,82pt)},anchor=south west,width=549pt,height=550pt,
  xmin=0,xmax=100,ymin=0,ymax=100,
  xtick={0,20,...,100},ytick={20,40,...,80},minor x tick num=3,minor y tick num=3,
  xticklabel pos=bottom,yticklabel pos=right,yticklabel style={xshift=4pt},
  xlabel={Non-native Contacts (\%)},ylabel={Native Contacts (\%)},
  xlabel style={at={(0.52,0)},anchor=north,yshift=-64pt},
  ylabel style={at={(1,0.513)},anchor=south,rotate=180,yshift=48pt}]
\lv{c0}{(0,83)(1.85,84.2)(3.84,83.3)(2.5,81.5)(4,81.15)(4,78.4)(6.8,79.3)(7,76.9)(8.8,77.2)(8.1,74.5)(9.9,74.2)(8,73)(9,71.1)(9.9,69)(9.9,67.2)(11.1,65.7)(11.8,64.2)(9.9,61.5)(11.8,60.2)(13.1,61.2)(14.4,60.5)(18.7,63)(18.4,60.9)(19.7,60.5)(22,63.3)(22,61.8)(24,61.2)(23.4,60.5)(26,61.2)(27,58.1)(25.3,54.8)(27,54.8)(25.3,52)(28,52)(29.3,48.1)(31.3,48.1)(33.1,46.9)(33,43.9)(34.3,43.9)(35.3,42.1)(37.3,39.9)(37.3,36.9)(40.2,38.1)(39.3,33.6)(42.2,33.9)(43.6,30.2)(45.5,28.1)(49.2,29)(49.5,28.1)(54.2,29)(54.5,26.9)(59.1,26.9)(60.4,27.8)(59.5,25.1)(62.4,27.8)(61.4,25.1)(65.4,25.1)(64.8,23)(69.4,22.1)(69.7,20.25)(71.7,20.9)(70,18.1)(73.4,19.6)(73.7,17.5)(72.4,16.3)(76.3,16.9)(78.3,14.8)(82.6,14.8)(85.6,14.8)(86.9,12.4)(88.6,12.05)(90.9,11.75)(89.2,8.1)(86.9,8.1)(86.5,9.5)(83.3,6.9)(80.6,5.1)(80.6,6)(76,6)(75.7,4.2)(78.6,3.9)(78.6,3)(81.6,3)(81.6,1.2)(89.9,1.2)(91.6,0.9)(89.9,0)(0,0)(0,1.8)(2,3)(3.3,3.5)(5,5)(6.8,6.9)(3.2,8.1)(3.2,11.75)(0,11.75)(0,14)(1.2,15)(0,16)}
\red{(80.3,18.5)(80.7,19.6)(81.2,19.3)(80.9,18.5)}
\red{(84.4,17.2)(84.8,18)(85.4,17.9)(85,17.2)}
\red{(87.8,18.4)(88.2,19.2)(90,19.2)(89.5,18.4)}
\edge{(0,81)(1.5,81)(3,79)(5,77.5)(7,74.5)(8,71)(9,68)(10,64.5)(11,60)(14,59)(18,59.5)(25,59.5)(25.5,56)(26,52)(28,49)(31,46.5)(33,43)(35,40)(37,37)(40,33)(42,31.5)(44,28)(49,27.5)(55,26.5)(60,25)(65,24.5)(69,21.5)(70.5,18)(75,16)(78,14.2)(85,14)(87,11.8)(89,10)(86,8.5)(80,6.5)(76,7)(74,4)(78,2.8)(81,1)(89,0.8)(90,0.1)(0,0.1)(0,2.2)(3.5,4.2)(7,7.5)(3.8,8.8)(3.7,12.3)(1.2,13.5)(1.5,16)(0,20)}
\lv{c2}{(0,79)(1.5,79.5)(3,78)(4.5,76.5)(6,73)(7,70)(8.3,66)(9.5,62)(11,58.5)(15,58)(20,58)(24,57.5)(24.2,54)(25,51)(27,48)(30,45)(32,42)(34,39)(36,36)(38.5,33)(41,30)(43.5,27)(50,26.5)(56,25)(62,24)(67,22)(69,19)(72,16)(76,14)(84,13)(86,11.5)(85,9.5)(80,8)(75,7.8)(72,4)(76,2)(80,0.5)(88,0.5)(89,0.05)(0,0.05)(0,2.5)(4,5)(7.5,8)(4.5,9.5)(4.3,13)(2.5,14.5)(2.5,18)(1,25)(1.2,33)(1,40)(1.5,47)(1,55)(1,62)(0,66)}
\lv{c3}{(0,77)(1.5,77.5)(3,76.5)(4.2,75)(5.5,71.5)(6.5,68)(7.5,64)(9,60.5)(11,57)(14,56.5)(20,56.5)(23,55.5)(23.5,52)(25,49)(27,46)(29.5,43.5)(31.5,40)(33,37)(35,34.5)(37,31)(40,28.5)(43,26)(50,25.5)(55,24)(60,23)(65,21.5)(67,19)(70,16)(74,13.5)(82,12.5)(84,11)(83,10)(78,9)(72,8)(68,6)(70,3)(73,1.5)(80,0.3)(0,0.03)(0,3)(4.5,6)(8,9)(5.5,11)(5,14)(3.5,17)(2,22)(2,33)(2,40)(2.5,47)(2,55)(2,62)(0.5,68)}
\lv{c4}{(1,75)(3,75.5)(4,73)(5,70)(5.8,66)(6.7,62)(8,59.5)(10,56)(14,55)(20,54)(22,53)(22.5,50)(24,47)(26,44.5)(28,42)(30,39)(31.5,36)(33.5,33)(36,30)(39,27)(43,25)(50,24)(55,23)(60,21.8)(63,20)(66,17.5)(68,15.5)(72,13)(80,12)(82,11)(78,10)(70,9)(64,7.5)(63,5)(66,2.5)(72,0.7)(0,0.02)(0,3.5)(6,7)(9,10)(7,13)(5,16)(3,22)(3,35)(3,47)(3,55)(2.5,62)(1,70)}
\lv{c45}{(1.5,74)(3,74.8)(4,72)(4.9,68.5)(5.5,64.5)(6.4,61)(8,59.3)(10,55.2)(11,51)(10.5,46)(10,41)(12.5,39)(14,44)(15,49)(17,53.5)(19.5,53.5)(21.5,51)(22,47)(21,42)(24.5,41)(28,39.5)(31.5,35)(31,31)(20,30.3)(8,30.8)(2.5,32)(3,38)(3.8,42)(4,47)(3.5,55)(2.6,62)(1.6,68)}
\lv{c45}{(3,25)(10,26.5)(20,26.8)(28,26.5)(33,28.6)(38,27.3)(43,24.6)(50,23.5)(55,22.5)(60,21)(63,18.5)(65,16.5)(67,15)(72,13)(78,11.6)(80,10.8)(76,9.8)(70,8.8)(62,7.6)(60,5)(62,2.5)(69,0.7)(0,0.03)(1,3)(7,6.5)(11,10)(8,13)(6,17)(3.5,20)}
\lv{c3}{(0,31)(5,31.5)(15,30.2)(24,30.5)(26,29.5)(22,27.5)(14,26.5)(6,27)(0,26)}
\lv{c2}{(1,29.5)(5,30)(10,28.5)(18,28.8)(21,28.5)(15,27.8)(8,27.8)(2,28)}
\lv{c5}{(2,73)(3,74)(4,71)(4.8,67)(5.3,63)(6,61)(8,59)(10,54.5)(10.5,50)(9.8,46)(9.5,42)(10,38)(12,38)(14.3,41)(14.5,50)(16.5,53)(19,53)(21,50)(21,46)(20,41)(24,39)(28,38)(31,34)(29.5,31.5)(20,31)(8,31.5)(3,33)(3.5,38)(5,42)(5,47)(4,55)(3,62)(2,68)}
\lv{c4}{(10.5,41)(11.5,43.5)(12.7,46)(14,44)(13.5,39.5)(11,38.5)}
\lv{c3}{(11.2,41.5)(12,43.5)(12.8,44.5)(13.3,42.5)(12.8,40)(11.6,40)}
\lv{c5}{(7,24)(10,25.5)(20,26)(27,26)(33,28)(38,26.5)(43,24)(50,23)(55,22)(60,20)(62,17.5)(58,16.5)(55,15)(62,14)(70,12.8)(78,11)(78,10)(70,9)(60,7.5)(58,5)(60,2.5)(66,0.7)(60,0.02)(14,0.02)(16,2)(17,5)(15,10)(17,15)(11,17)(7,20)}
\lv{c45}{(0,1.2)(6,2.6)(16,2.8)(60,2.8)(70,1.5)(82,0.2)(0,0.02)}
\lv{c5}{(2,1)(8,2.1)(30,2.5)(60,2.4)(70,1.2)(78,0.1)(0,0.02)}
\lv{c6}{(22,18)(30,18.5)(36,18)(38,18)(43,18)(50,18)(52,16.5)(50,14.5)(42,13.5)(36,14)(42,13)(50,12)(60,11)(70,10.5)(76,10.5)(70,8.5)(58,7.5)(56,5)(50,2.5)(45,1.8)(35,2.3)(28,2.5)(22,1.5)(19,3)(20,6)(20,10)(22,14)}
\lv{c6}{(28,24)(33.5,27.5)(37,26.8)(40,24)(36,22)(31,21.5)(28,22)}
\lv{c6}{(4,0.4)(10,1.3)(30,1.9)(50,1.9)(70,0.9)(75,0.02)}
\lv{c6}{(2.2,71.5)(3,73)(3.8,70)(4.4,66)(5,62)(6,59)(8,56.5)(9.5,52)(9.3,47.5)(8,44.5)(5.5,45)(4.5,50)(3.5,58)(2.5,65)}
\lv{c6}{(16.2,46)(17.2,49)(19,49.5)(20,46.5)(19.5,43)(18,41)(16.5,43)}
\lv{c6}{(7,33)(10,36)(14,35)(16,33.5)(17,36)(21,37)(25,38)(28,35)(30,33)(26,32)(20,32)(15,31.5)(9,31.5)}
\lv{c45}{(36,13.5)(40,14.5)(52,13.5)(48,11.5)(38,12)}
\lv{c4}{(38,13)(42,13.9)(49,13.2)(47,12.1)(40,12.4)}
\lv{c7}{(2.4,68)(3.1,71)(3.7,68)(3.9,64)(3.3,61.5)(2.7,63)}
\lv{c7}{(4.8,60.5)(6.8,56.6)(9.1,52.4)(9.5,48.7)(7.2,46)(5.2,48)(4.5,54.8)}
\lv{c7}{(6,52)(6.8,53)(7.6,50)(7,47.5)(6.2,48.5)}
\lv{c7}{(29.7,24.5)(32,26.5)(36,26.5)(39.5,25)(36,23)(31,22.8)}
\lv{c7}{(37.5,16)(41,17.5)(46,17)(49,16)(45,14.8)(40,14.5)}
\lv{c7}{(56,10)(60,12.2)(66,12.5)(71,11)(68,9.5)(60,8.7)}
\lv{c7}{(20.4,7)(25,10)(35,10.5)(45,9.3)(53,8.8)(55,7)(50,4.8)(40,3.9)(30,3.5)(24,4.5)}
\lv{c7}{(6,0)(12,1)(30,1.5)(50,1.2)(65,0.6)(75,0)}
\lv{c8}{(27,6.5)(30,9)(45,8.5)(51,7.7)(53,6.5)(47,5.2)(35,4.7)(28,5)}
\lv{c8}{(8,0)(20,0.6)(50,0.5)(65,0)}
\lv{c85}{(30,6.5)(35,7.5)(45,7.5)(50,6.7)(46,5.7)(35,5.5)}
\lv{c9}{(42,6.8)(46,7.3)(49,6.5)(46,5.9)}
\lv{c9}{(15,0)(30,0.2)(50,0)}
\foreach \v in {67.3,49.1,33.8,24.9,16,6.5}{
  \edef\tmp{\noexpand\addplot[dashln] coordinates {(0,\v)(100,\v)};}\tmp}
\node[font=\fontsize{26}{26}\selectfont] at (axis cs:95,94.4) {D};
\end{axis}

% dashes across the gaps between the panels
\foreach \x in {133,162,182,233.5,308,328.5,363}{\draw[black!40,line width=2.8pt] (\x,632) -- (\x,640);}
\foreach \y in {452,351,267,218,169,118}{\draw[black!40,line width=2.8pt] (654,\y) -- (662,\y);}

% colour bar
\def\cbar#1#2#3{\shade[top color=#2,bottom color=#3] (1181,{1118-37.8*#1}) rectangle (1202,{1118-37.8*(#1+1)});}
\definecolor{a0}{HTML}{E3262A}\definecolor{b0}{HTML}{E8602F}
\definecolor{a1}{HTML}{E9692F}\definecolor{b1}{HTML}{E98F33}
\definecolor{a2}{HTML}{E79A35}\definecolor{b2}{HTML}{D9AE3A}
\definecolor{a3}{HTML}{D0B23C}\definecolor{b3}{HTML}{B5B948}
\definecolor{a4}{HTML}{AFBB4C}\definecolor{b4}{HTML}{8FBC63}
\definecolor{a5}{HTML}{88BB68}\definecolor{b5}{HTML}{6EB281}
\definecolor{a6}{HTML}{68AF88}\definecolor{b6}{HTML}{57A2A6}
\definecolor{a7}{HTML}{559EAB}\definecolor{b7}{HTML}{4489C1}
\definecolor{a8}{HTML}{4284C4}\definecolor{b8}{HTML}{3D60C9}
\definecolor{a9}{HTML}{3D4CC2}\definecolor{b9}{HTML}{5B1F98}
\foreach \i in {0,...,9}{\cbar{\i}{a\i}{b\i}}
\foreach \i in {1,...,9}{\draw[black!85,line width=0.6pt] (1181,{1118-37.8*\i}) -- (1202,{1118-37.8*\i});}
\draw[black!70,line width=0.8pt] (1181,740) rectangle (1202,1118);
\node[anchor=east,font=\fontsize{22}{22}\selectfont] at (1176,1117) {0.0};
\node[anchor=east,font=\fontsize{22}{22}\selectfont] at (1176,740) {−5.0};
\node[rotate=90,font=\fontsize{27}{27}\selectfont] at (1157,926) {kcal/mol};

% state labels in panel C
\def\stt#1#2#3{\node[font=\fontsize{31}{31}\selectfont,inner sep=0pt] at (#1,#2) {#3};}
\stt{224}{600}{F\textsubscript{1}/F\textsubscript{2}}
\stt{220}{494}{I\textsubscript{1}}
\stt{286}{378}{I\textsubscript{2}}
\stt{379}{337}{I\textsubscript{3}}
\stt{183}{222}{M\textsubscript{1}}
\stt{156}{169}{M\textsubscript{2}}
\stt{164}{116}{M\textsubscript{3}}
\stt{438}{195}{U\textsubscript{1}}
\stt{551}{161}{U\textsubscript{2}}
\stt{581}{108}{U\textsubscript{3}}
\draw[-{Stealth[length=14pt,width=12pt]},line width=3pt,black!85] (415,198) -- (376,185);
\draw[-{Stealth[length=14pt,width=12pt]},line width=3pt,black!85] (527,166) -- (490,151);
\draw[-{Stealth[length=14pt,width=12pt]},line width=3pt,black!85] (180,168) -- (218,152);
\draw[-{Stealth[length=14pt,width=12pt]},line width=3pt,black!85] (188,113) -- (228,98);
\end{tikzpicture}
\end{document}
